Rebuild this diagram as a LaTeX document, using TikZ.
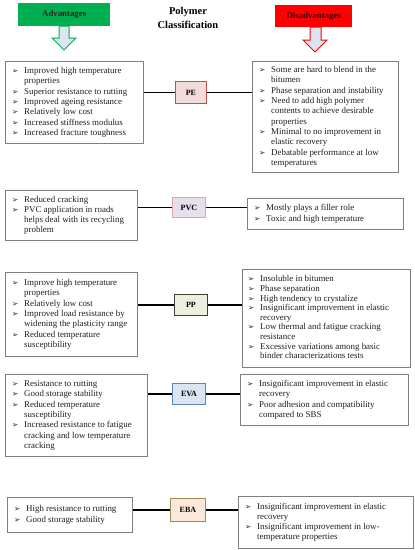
\documentclass[tikz,border=0pt]{standalone}
\usepackage{fontspec}
\setmainfont{Liberation Serif}
\newfontfamily\dejavu{DejaVu Sans}
\definecolor{boxgray}{HTML}{808080}
\definecolor{txtc}{HTML}{1E1E1E}
\definecolor{advgreen}{HTML}{00B050}
\definecolor{disred}{HTML}{FF0000}
\definecolor{distxt}{HTML}{3A0505}
\definecolor{arrowfill}{HTML}{DCE6F2}
\definecolor{pefill}{HTML}{F2DCDB}
\definecolor{pedraw}{HTML}{C0504D}
\definecolor{pvcfill}{HTML}{E5E0EC}
\definecolor{pvcdraw}{HTML}{E3A3AA}
\definecolor{ppfill}{HTML}{EBF1DE}
\definecolor{ppdraw}{HTML}{3F3F30}
\definecolor{evafill}{HTML}{DBE5F1}
\definecolor{evadraw}{HTML}{5B87C0}
\definecolor{ebafill}{HTML}{FDE9D9}
\definecolor{ebadraw}{HTML}{A08C4C}
\newcommand{\bul}{{\dejavu\fontsize{7.5}{8}\selectfont ➢}}
\newcommand{\lst}[1]{\begin{tabular}{@{}p{12pt}@{}l@{}}#1\end{tabular}}
\begin{document}
\begin{tikzpicture}[x=1pt,y=-1pt,
  box/.style={draw=boxgray,line width=0.8pt,anchor=north west,inner sep=0pt},
  txt/.style={anchor=west,inner sep=0pt,font=\fontsize{8.9}{10.3}\selectfont,text=txtc},
  poly/.style={line width=0.9pt,anchor=north west,inner sep=0pt,font=\bfseries\fontsize{8}{9}\selectfont},
  conn/.style={line width=1.5pt},
  hdr/.style={anchor=north west,inner sep=0pt,font=\bfseries\fontsize{8.8}{10}\selectfont}]
\useasboundingbox (0,0) rectangle (415,550);

% headers
\node[hdr,fill=advgreen,minimum width=92pt,minimum height=23pt,text=black!85] (adv) at (18,3) {Advantages};
\node[hdr,fill=disred,minimum width=77pt,minimum height=22pt,text=distxt] (dis) at (275,5) {Disadvantages};
\node[font=\bfseries\fontsize{10.5}{14.5}\selectfont,align=center] (title) at (188,18) {Polymer\\Classification};
\draw[draw=advgreen,fill=arrowfill,line width=1pt]
  (59,26) -- (69,26) -- (69,38) -- (76,38) -- (64,50) -- (52,38) -- (59,38) -- cycle;
\draw[draw=disred,fill=arrowfill,line width=1pt]
  (310,27) -- (321,27) -- (321,40) -- (327,40) -- (315,52) -- (303,40) -- (310,40) -- cycle;

% PE
\node[box,minimum width=138pt,minimum height=82pt] (pel) at (5,61) {};
\node[txt] (pelt) at ([xshift=7pt]pel.west) {\lst{
\bul & Improved high temperature\\ & properties\\
\bul & Superior resistance to rutting\\
\bul & Improved ageing resistance\\
\bul & Relatively low cost\\
\bul & Increased stiffness modulus\\
\bul & Increased fracture toughness}};
\node[box,minimum width=146pt,minimum height=111pt] (per) at (252,61) {};
\node[txt] (pert) at ([xshift=7pt]per.west) {\lst{
\bul & Some are hard to blend in the\\ & bitumen\\
\bul & Phase separation and instability\\
\bul & Need to add high polymer\\ & contents to achieve desirable\\ & properties\\
\bul & Minimal to no improvement in\\ & elastic recovery\\
\bul & Debatable performance at low\\ & temperatures}};
\node[poly,fill=pefill,draw=pedraw,minimum width=31pt,minimum height=22pt] (pe) at (175,81) {PE};
\draw[conn] (pe.west) -- (pe.west -| pel.east);
\draw[conn] (pe.east) -- (pe.east -| per.west);

% PVC
\node[box,minimum width=132pt,minimum height=50pt] (pvcl) at (5,190) {};
\node[txt] (pvclt) at ([xshift=7pt]pvcl.west) {\lst{
\bul & Reduced cracking\\
\bul & PVC application in roads\\ & helps deal with its recycling\\ & problem}};
\node[box,minimum width=156pt,minimum height=31pt] (pvcr) at (247,198) {};
\node[txt] (pvcrt) at ([xshift=7pt]pvcr.west) {\lst{
\bul & Mostly plays a filler role\\
\bul & Toxic and high temperature}};
\node[poly,fill=pvcfill,draw=pvcdraw,minimum width=33pt,minimum height=20pt] (pvc) at (172,197) {PVC};
\draw[conn] (pvc.west) -- (pvc.west -| pvcl.east);
\draw[conn] (pvc.east) -- (pvc.east -| pvcr.west);

% PP
\node[box,minimum width=132pt,minimum height=84pt] (ppl) at (5,272) {};
\node[txt] (pplt) at ([xshift=7pt]ppl.west) {\lst{
\bul & Improve high temperature\\ & properties\\
\bul & Relatively low cost\\
\bul & Improved load resistance by\\ & widening the plasticity range\\
\bul & Reduced temperature\\ & susceptibility}};
\node[box,minimum width=168pt,minimum height=98pt] (ppr) at (242,269) {};
\node[txt,font=\fontsize{8.9}{9.6}\selectfont] (pprt) at ([xshift=6pt]ppr.west) {\lst{
\bul & Insoluble in bitumen\\
\bul & Phase separation\\
\bul & High tendency to crystalize\\
\bul & Insignificant improvement in elastic\\ & recovery\\
\bul & Low thermal and fatigue cracking\\ & resistance\\
\bul & Excessive variations among basic\\ & binder characterizations tests}};
\node[poly,fill=ppfill,draw=ppdraw,minimum width=33pt,minimum height=21pt] (pp) at (174,294) {PP};
\draw[conn] (pp.west) -- (pp.west -| ppl.east);
\draw[conn] (pp.east) -- (pp.east -| ppr.west);

% EVA
\node[box,minimum width=142pt,minimum height=82pt] (eval) at (5,374) {};
\node[txt] (evalt) at ([xshift=7pt]eval.west) {\lst{
\bul & Resistance to rutting\\
\bul & Good storage stability\\
\bul & Reduced temperature\\ & susceptibility\\
\bul & Increased resistance to fatigue\\ & cracking and low temperature\\ & cracking}};
\node[box,minimum width=168pt,minimum height=51pt] (evar) at (240,374) {};
\node[txt] (evart) at ([xshift=7pt]evar.west) {\lst{
\bul & Insignificant improvement in elastic\\ & recovery\\
\bul & Poor adhesion and compatibility\\ & compared to SBS}};
\node[poly,fill=evafill,draw=evadraw,minimum width=33pt,minimum height=21pt] (eva) at (172,383) {EVA};
\draw[conn] (eva.west) -- (eva.west -| eval.east);
\draw[conn] (eva.east) -- (eva.east -| evar.west);

% EBA
\node[box,minimum width=125pt,minimum height=35pt] (ebal) at (7,497) {};
\node[txt] (ebalt) at ([xshift=7pt]ebal.west) {\lst{
\bul & High resistance to rutting\\
\bul & Good storage stability}};
\node[box,minimum width=175pt,minimum height=52pt] (ebar) at (238,496) {};
\node[txt] (ebart) at ([xshift=7pt]ebar.west) {\lst{
\bul & Insignificant improvement in elastic\\ & recovery\\
\bul & Insignificant improvement in low-\\ & temperature properties}};
\node[poly,fill=ebafill,draw=ebadraw,minimum width=35pt,minimum height=23pt] (eba) at (170,498) {EBA};
\draw[conn] (eba.west) -- (eba.west -| ebal.east);
\draw[conn] (eba.east) -- (eba.east -| ebar.west);
\end{tikzpicture}
\end{document}
